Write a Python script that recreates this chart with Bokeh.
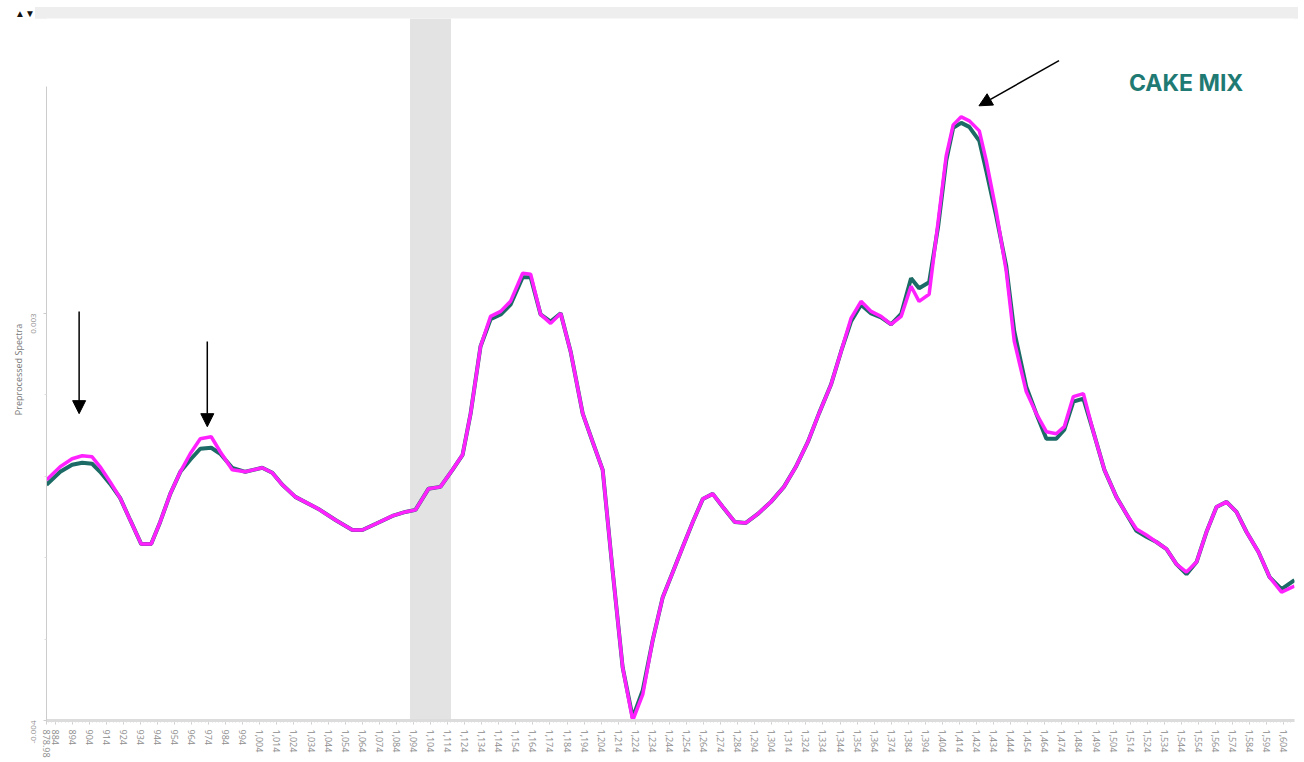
import math
from bokeh.plotting import figure
from bokeh.layouts import column
from bokeh.models import (BoxAnnotation, Arrow, NormalHead, Label, FixedTicker,
                          ColumnDataSource, Div)
from bokeh.embed import file_html
from bokeh.resources import INLINE

# wavelength grid (nm)
wavelength = [878.98, 887.0, 894.0, 899.9, 905.7, 910.4, 916.3, 922.1, 928.0, 934.5,
              940.3, 945.6, 951.5, 957.4, 963.2, 969.1, 975.5, 980.8, 987.8, 995.5,
              1005.4, 1011.3, 1017.2, 1024.8, 1038.3, 1048.3, 1058.2, 1064.1, 1071.7, 1081.7,
              1089.3, 1095.2, 1102.8, 1109.8, 1116.9, 1122.8, 1127.5, 1133.3, 1139.2, 1145.1,
              1150.9, 1158.0, 1162.7, 1168.5, 1174.4, 1180.3, 1186.1, 1193.2, 1199.0, 1204.9,
              1210.8, 1216.6, 1222.5, 1228.4, 1234.2, 1240.1, 1246.0, 1251.8, 1257.7, 1263.6,
              1269.4, 1275.3, 1282.3, 1288.8, 1295.8, 1303.5, 1311.1, 1318.1, 1325.2, 1331.6,
              1338.7, 1344.6, 1350.4, 1356.3, 1362.2, 1368.0, 1373.9, 1379.8, 1385.6, 1390.3,
              1396.2, 1401.5, 1406.2, 1410.3, 1415.0, 1419.7, 1425.6, 1429.7, 1435.5, 1441.4,
              1446.1, 1453.1, 1459.0, 1464.9, 1470.7, 1475.4, 1480.7, 1486.6, 1492.4, 1498.9,
              1505.9, 1511.8, 1517.7, 1523.5, 1529.4, 1535.3, 1541.1, 1547.0, 1552.9, 1558.7,
              1564.6, 1570.5, 1576.3, 1582.2, 1589.2, 1595.7, 1602.7, 1610.3]

# magenta spectra (x 1e-3)
magenta_vals = [0.138, 0.362, 0.500, 0.552, 0.534, 0.362, 0.103, -0.172, -0.552, -0.966,
                -0.966, -0.586, -0.103, 0.276, 0.586, 0.845, 0.879, 0.621, 0.310, 0.276,
                0.345, 0.259, 0.052, -0.155, -0.362, -0.552, -0.724, -0.724, -0.621, -0.483,
                -0.414, -0.379, -0.017, 0.017, 0.310, 0.569, 1.276, 2.431, 2.948, 3.034,
                3.207, 3.690, 3.672, 2.983, 2.828, 3.000, 2.345, 1.276, 0.793, 0.310,
                -1.448, -3.086, -4.000, -3.552, -2.621, -1.879, -1.448, -1.017, -0.586, -0.190,
                -0.103, -0.328, -0.586, -0.603, -0.448, -0.241, 0.017, 0.362, 0.793, 1.276,
                1.776, 2.345, 2.914, 3.207, 3.034, 2.948, 2.810, 2.948, 3.466, 3.207,
                3.328, 4.586, 5.707, 6.241, 6.379, 6.310, 6.138, 5.621, 4.759, 3.724,
                2.517, 1.655, 1.276, 0.966, 0.931, 1.052, 1.569, 1.621, 0.966, 0.310,
                -0.155, -0.448, -0.707, -0.810, -0.931, -1.052, -1.310, -1.448, -1.276, -0.759,
                -0.328, -0.241, -0.414, -0.759, -1.103, -1.534, -1.793, -1.690]

# teal spectra (x 1e-3)
teal_vals = [0.052, 0.276, 0.397, 0.431, 0.414, 0.276, 0.069, -0.172, -0.552, -0.966,
             -0.966, -0.586, -0.103, 0.276, 0.483, 0.672, 0.690, 0.586, 0.345, 0.276,
             0.345, 0.259, 0.052, -0.155, -0.362, -0.552, -0.724, -0.724, -0.621, -0.483,
             -0.414, -0.379, -0.017, 0.017, 0.310, 0.569, 1.276, 2.431, 2.900, 2.980,
             3.150, 3.621, 3.620, 2.983, 2.860, 3.000, 2.345, 1.276, 0.793, 0.310,
             -1.448, -3.086, -3.950, -3.480, -2.621, -1.879, -1.448, -1.017, -0.586, -0.190,
             -0.103, -0.328, -0.586, -0.603, -0.448, -0.241, 0.017, 0.362, 0.793, 1.276,
             1.776, 2.345, 2.860, 3.150, 3.000, 2.930, 2.810, 2.990, 3.603, 3.431,
             3.534, 4.500, 5.621, 6.190, 6.276, 6.207, 5.966, 5.448, 4.672, 3.810,
             2.690, 1.741, 1.276, 0.845, 0.845, 1.000, 1.483, 1.534, 0.966, 0.310,
             -0.155, -0.448, -0.740, -0.840, -0.931, -1.052, -1.310, -1.483, -1.276, -0.759,
             -0.328, -0.241, -0.414, -0.759, -1.103, -1.534, -1.741, -1.586]

x_ticks = [878.98] + list(range(884, 1605, 10))
x_labels = {t: ("878.98" if t == 878.98 else f"{t:,}") for t in x_ticks}
y_ticks = [0.003, -0.004]
y_labels = {0.003: "0.003", -0.004: "-0.004"}

excluded_region = (1092, 1116)

# annotations: (x_start, y_start, x_end, y_end)
arrows = [(898.1, 0.003034, 898.1, 0.001276),
          (973.2, 0.002517, 973.2, 0.001052),
          (1472.3, 0.007345, 1425.4, 0.006569)]
title_text = "CAKE MIX"
title_pos = (1513.3, 0.00672)

scale = 1e-3
src = ColumnDataSource(dict(x=wavelength,
                            m=[v * scale for v in magenta_vals],
                            t=[v * scale for v in teal_vals]))

p = figure(width=1298, height=742, output_backend="svg", toolbar_location=None,
           x_range=(878.98, 1610.3), y_range=(-0.004, 0.00807),
           min_border_left=46, min_border_right=4, min_border_top=0,
           min_border_bottom=40)
p.outline_line_color = None
p.grid.visible = False

p.add_layout(BoxAnnotation(left=excluded_region[0], right=excluded_region[1],
                           fill_color="#e3e3e3", fill_alpha=1.0, line_color=None,
                           level="underlay"))

p.line("x", "t", source=src, line_color="#1c6b66", line_width=4)
p.line("x", "m", source=src, line_color="#ff22ff", line_width=3.5)

for (xs, ys, xe, ye) in arrows:
    p.add_layout(Arrow(x_start=xs, y_start=ys, x_end=xe, y_end=ye,
                       line_color="black", line_width=1.5,
                       end=NormalHead(size=13, fill_color="black", line_color="black")))

p.add_layout(Label(x=title_pos[0], y=title_pos[1], text=title_text,
                   text_font="Inter", text_font_style="bold",
                   text_font_size="23px", text_color="#1f7a74"))

xa = p.xaxis[0]
xa.ticker = FixedTicker(ticks=x_ticks, minor_ticks=list(range(880, 1610, 2)))
xa.major_label_overrides = x_labels
xa.major_label_orientation = -math.pi / 2
xa.major_label_text_font_size = "9px"
xa.major_label_text_color = "#8c8c8c"
xa.major_label_text_font = "Open Sans"
xa.axis_line_color = "#dcdcdc"
xa.axis_line_width = 3
xa.major_tick_line_color = "#cfcfcf"
xa.minor_tick_line_color = "#dddddd"
xa.major_tick_in = 0
xa.major_tick_out = 4
xa.minor_tick_in = 0
xa.minor_tick_out = 2

ya = p.yaxis[0]
ya.ticker = FixedTicker(ticks=y_ticks, minor_ticks=[0.0016, 0.0002, -0.0012, -0.0026])
ya.major_label_overrides = y_labels
ya.major_label_orientation = math.pi / 2
ya.major_label_text_font_size = "8px"
ya.major_label_text_color = "#8c8c8c"
ya.major_label_text_font = "Open Sans"
ya.major_label_standoff = 10
ya.axis_line_color = "#cccccc"
ya.major_tick_line_color = "#cccccc"
ya.minor_tick_line_color = "#dddddd"
ya.major_tick_in = 0
ya.major_tick_out = 3
ya.minor_tick_out = 2
ya.bounds = (-0.004, 0.0069)
ya.axis_label = "Preprocessed Spectra"
ya.axis_label_text_font = "Open Sans"
ya.axis_label_text_font_style = "normal"
ya.axis_label_text_font_size = "9px"
ya.axis_label_text_color = "#777777"
ya.axis_label_standoff = 1

header = Div(text=('<div style="display:flex;height:13px;width:1283px">'
                   '<div style="width:20px;font-size:10px;line-height:13px;color:#111;'
                   'font-weight:bold">\u25b2\u25bc</div>'
                   '<div style="flex:1;background:#eeeeee"></div></div>'),
             width=1283, height=13, margin=(5, 0, 0, 15))

layout = column(header, p, spacing=0)
open("out.html", "w").write(file_html(layout, INLINE))
